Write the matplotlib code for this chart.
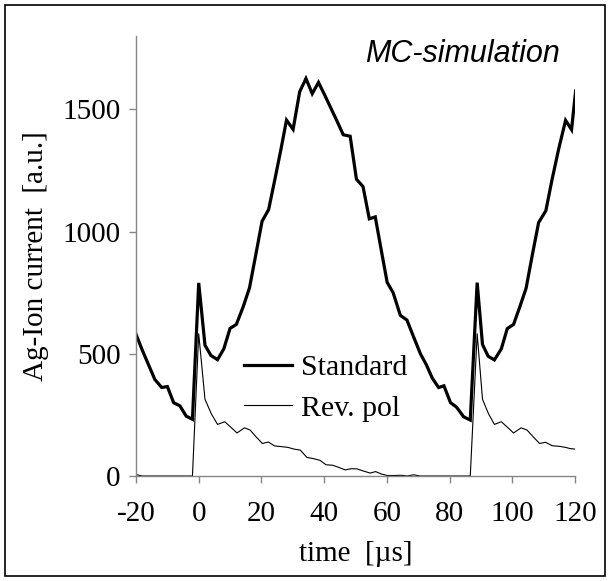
#!/usr/bin/env python3
"""
MC-simulation of Ag-ion current: standard vs reversed polarity.
"""

import matplotlib
matplotlib.use('Agg')
import matplotlib.pyplot as plt
from matplotlib.patches import Rectangle

OUTPUT_FILE = "out.png"
DPI = 100

# --- Data ---
t_standard = [-20, -18, -16, -14, -11.8, -10, -8, -6, -4, -2,
              0, 2, 3.9, 6, 8, 10, 12, 14.2, 16.2, 18.2,
              20.2, 22.3, 24.3, 26.2, 28, 30.1, 32.2, 34.2, 36.2, 38.2,
              40.2, 42, 44.1, 46.1, 48.3, 50.3, 52.4, 54.4, 56.3, 58.2,
              60.1, 62, 64.3, 66.4, 68.5, 70.7, 72.6, 74.5, 76.5, 78.2,
              80.3, 82.2, 84.5, 86.6, 88.8, 90.5, 92.3, 94.3, 96.5, 98.4,
              100.4, 102.4, 104.4, 106.4, 108.4, 110.7, 112.7, 114.8, 117, 118.9,
              120.2]
standard = [580, 515, 455, 395, 362, 366, 300, 287, 245, 232,
            790, 535, 493, 476, 520, 604, 620, 693, 770, 905,
            1042, 1090, 1214, 1335, 1456, 1418, 1572, 1626, 1564, 1610,
            1558, 1509, 1452, 1396, 1390, 1214, 1184, 1052, 1060, 925,
            792, 750, 657, 638, 570, 500, 455, 400, 362, 369,
            300, 282, 242, 229, 791, 538, 490, 475, 520, 603,
            620, 692, 768, 905, 1037, 1085, 1214, 1338, 1455, 1417,
            1575]

t_revpol = [-20, -19, -18, -10, -2,
            0, 2, 4, 6, 8.3, 10.2, 12.2, 14.6, 16.4, 18.3,
            20.3, 22.2, 24.2, 26.5, 28.5, 30.4, 32.4, 34.5, 36.6, 38.7,
            40.6, 42.7, 44.7, 46.7, 48.7, 50.5, 52.6, 54.7, 56.4, 58.3,
            60.2, 62.4, 64.5, 66.5, 68.6, 70.5, 80, 86.6,
            88.8, 90.5, 92.4, 94.3, 96.5, 98.4, 100.4, 102.8, 104.7, 106.7,
            108.7, 110.6, 112.7, 115.2, 117, 118.5, 120.1]
revpol = [6, 3, 0, 0, 0,
          582, 314, 255, 211, 222, 200, 176, 197, 188, 160,
          133, 139, 123, 120, 117, 110, 106, 76, 71, 64,
          46, 44, 35, 25, 30, 29, 20, 12, 18, 8,
          2, 2, 3, 0, 5, 0, 0, 0,
          582, 314, 255, 211, 222, 200, 176, 197, 188, 160,
          133, 138, 124, 121, 117, 112, 110]

x_ticks = [-20, 0, 20, 40, 60, 80, 100, 120]
y_ticks = [0, 500, 1000, 1500]

COLOR_AXIS = "#868686"
SERIF = "Liberation Serif"
SANS = "Liberation Sans"


def main():
    plt.rcParams['axes.unicode_minus'] = False
    fig = plt.figure(figsize=(6.1, 5.81), dpi=DPI, facecolor='white')

    # border round the whole chart
    fig.patches.append(Rectangle((5 / 610, 5 / 581), 600 / 610, 571 / 581,
                                 transform=fig.transFigure, fill=False,
                                 edgecolor='black', linewidth=1.2))

    ax = fig.add_axes([136 / 610, 105 / 581, 439 / 610, 440 / 581])
    ax.plot(t_standard, standard, color='black', linewidth=2.3,
            label='Standard', solid_joinstyle='miter')
    ax.plot(t_revpol, revpol, color='black', linewidth=0.8, label='Rev. pol')

    ax.set_xlim(-20, 120)
    ax.set_ylim(0, 1800)
    ax.set_xticks(x_ticks)
    ax.set_yticks(y_ticks)

    for side in ('top', 'right'):
        ax.spines[side].set_visible(False)
    for side in ('left', 'bottom'):
        ax.spines[side].set_color(COLOR_AXIS)
        ax.spines[side].set_linewidth(1.0)

    ax.tick_params(direction='out', length=5, width=1.0, color=COLOR_AXIS,
                   labelsize=21)
    ax.tick_params(axis='y', pad=6)
    ax.tick_params(axis='x', pad=13)
    for lbl in ax.get_xticklabels() + ax.get_yticklabels():
        lbl.set_fontfamily(SERIF)

    ax.set_xlabel("time  [\u00b5s]", fontsize=21, family=SERIF, labelpad=10)
    ax.set_ylabel("Ag-Ion current  [a.u.]", fontsize=21, family=SERIF, labelpad=10)

    ax.legend(loc='center left', bbox_to_anchor=(0.247, 0.2),
              frameon=False, prop={'family': SERIF, 'size': 21.5},
              handlelength=1.6, handletextpad=0.3, labelspacing=0.45,
              borderpad=0, borderaxespad=0)

    fig.text(560 / 610, 1 - 62 / 581, "MC-simulation", ha='right', va='baseline',
             fontsize=22, style='italic', family=SANS)

    plt.savefig(OUTPUT_FILE, dpi=DPI, facecolor='white')


if __name__ == "__main__":
    main()
